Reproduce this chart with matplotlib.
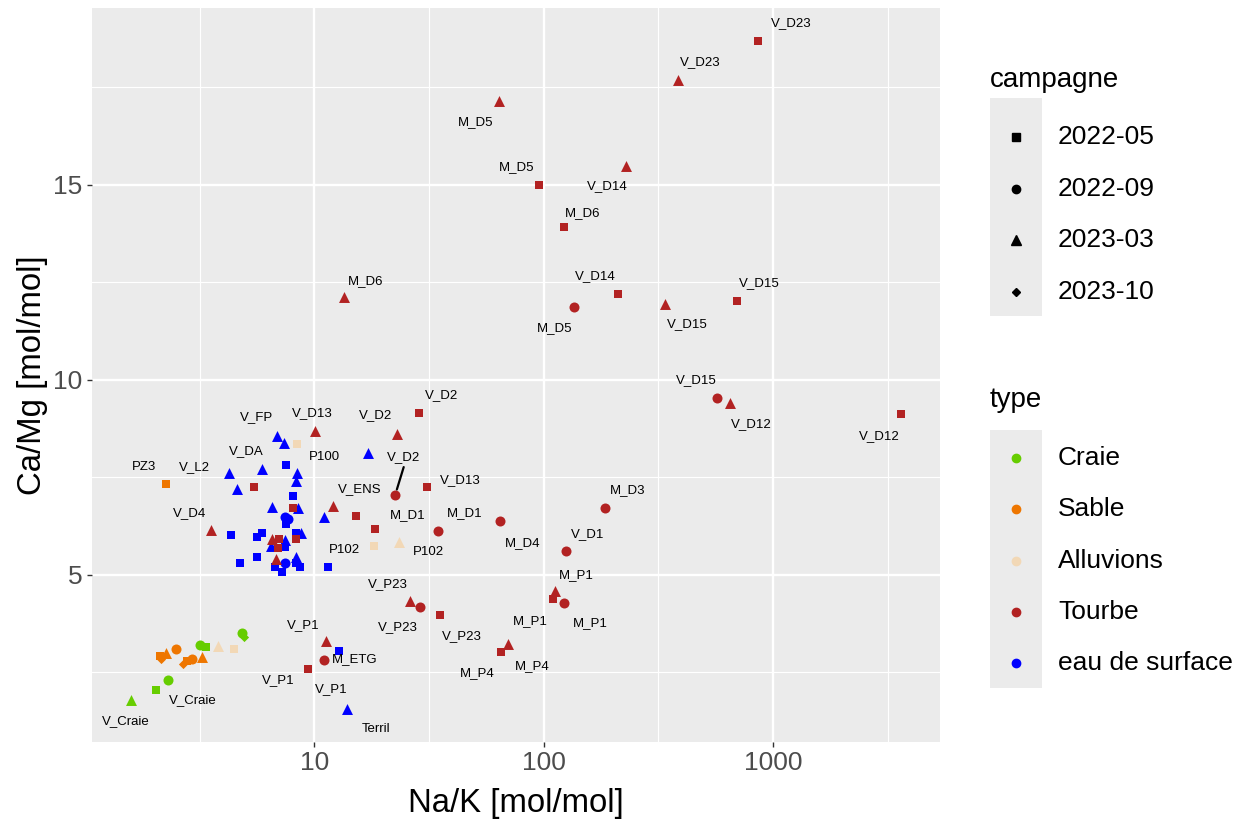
import numpy as np
import matplotlib.pyplot as plt
from matplotlib.lines import Line2D
from matplotlib.patches import Rectangle

plt.rcParams['font.family'] = ['Liberation Sans', 'DejaVu Sans']

types = ['Craie', 'Sable', 'Alluvions', 'Tourbe', 'eau de surface']
type_colors = ['#66CD00', '#EE7600', '#F2D8B6', '#B22222', '#0000FF']
campagnes = ['2022-05', '2022-09', '2023-03', '2023-10']
camp_markers = ['s', 'o', '^', 'D']
camp_sizes = [40, 52, 62, 22]

# eau de surface
eau_05_x = [12.82, 7.52, 8.10, 7.52, 4.31, 5.60, 5.89, 7.45, 8.29, 5.60, 4.71, 8.29, 8.66, 6.74, 7.20, 11.51]
eau_05_y = [3.04, 7.81, 7.02, 6.30, 6.02, 5.96, 6.08, 5.72, 6.07, 5.45, 5.30, 5.31, 5.21, 5.20, 5.06, 5.21]
eau_09_x = [7.45, 7.70, 7.45]
eau_09_y = [6.49, 6.42, 5.31]
eau_03_x = [13.8, 17.1, 6.87, 7.38, 4.25, 5.89, 8.43, 8.32, 4.61, 8.51, 6.51, 10.95, 6.44, 7.45, 8.75, 8.32]
eau_03_y = [1.57, 8.11, 8.55, 8.38, 7.60, 7.71, 7.60, 7.40, 7.20, 6.71, 6.75, 6.49, 5.74, 5.88, 6.07, 5.45]
# Tourbe
tou_05_x = [860, 95.1, 122.3, 211, 696, 3631, 28.6, 30.9, 15.1, 18.4, 35.4, 65.1, 109.4, 9.41, 5.45, 8.10, 7.03, 6.96, 8.29]
tou_05_y = [18.67, 15.0, 13.91, 12.19, 12.02, 9.11, 9.14, 7.26, 6.50, 6.17, 3.96, 3.03, 4.39, 2.59, 7.24, 6.71, 5.91, 5.68, 5.91]
tou_09_x = [135.2, 571, 22.5, 34.5, 64.7, 184.7, 125.6, 122.9, 28.9, 10.98]
tou_09_y = [11.85, 9.54, 7.05, 6.13, 6.37, 6.71, 5.62, 4.28, 4.18, 2.81]
tou_03_x = [386, 63.6, 228, 13.5, 336.5, 649, 23.0, 10.07, 12.1, 3.55, 26.0, 70.0, 112.5, 11.2, 6.51, 6.78]
tou_03_y = [17.69, 17.15, 15.47, 12.12, 11.95, 9.41, 8.62, 8.69, 6.76, 6.15, 4.32, 3.23, 4.59, 3.30, 5.91, 5.40]
# Alluvions
all_05_x = [8.35, 18.1, 4.46]
all_05_y = [8.34, 5.74, 3.10]
all_03_x = [23.3, 3.81]
all_03_y = [5.83, 3.17]
# Craie
cra_05_x = [2.03, 3.35]
cra_05_y = [2.06, 3.14]
cra_09_x = [2.30, 3.17, 4.85]
cra_09_y = [2.31, 3.21, 3.51]
cra_03_x = [1.577]
cra_03_y = [1.80]
cra_10_x = [4.95]
cra_10_y = [3.41]
# Sable
sab_05_x = [2.26, 2.12, 2.77]
sab_05_y = [7.32, 2.93, 2.78]
sab_09_x = [2.50, 2.93]
sab_09_y = [3.10, 2.84]
sab_03_x = [2.26, 3.24]
sab_03_y = [3.00, 2.90]
sab_10_x = [2.15, 2.68]
sab_10_y = [2.83, 2.72]

groups = [
    ('eau de surface', '2022-05', eau_05_x, eau_05_y),
    ('eau de surface', '2022-09', eau_09_x, eau_09_y),
    ('eau de surface', '2023-03', eau_03_x, eau_03_y),
    ('Tourbe', '2022-05', tou_05_x, tou_05_y),
    ('Tourbe', '2022-09', tou_09_x, tou_09_y),
    ('Tourbe', '2023-03', tou_03_x, tou_03_y),
    ('Alluvions', '2022-05', all_05_x, all_05_y),
    ('Alluvions', '2023-03', all_03_x, all_03_y),
    ('Craie', '2022-05', cra_05_x, cra_05_y),
    ('Craie', '2022-09', cra_09_x, cra_09_y),
    ('Craie', '2023-03', cra_03_x, cra_03_y),
    ('Craie', '2023-10', cra_10_x, cra_10_y),
    ('Sable', '2022-05', sab_05_x, sab_05_y),
    ('Sable', '2022-09', sab_09_x, sab_09_y),
    ('Sable', '2023-03', sab_03_x, sab_03_y),
    ('Sable', '2023-10', sab_10_x, sab_10_y),
]

# text labels (repelled positions)
label_text = ['V_D23', 'V_D23', 'M_D5', 'M_D5', 'V_D14', 'M_D6', 'V_D14', 'M_D6', 'M_D5',
              'V_D15', 'V_D15', 'V_D15', 'V_D12', 'V_D12', 'V_D2', 'V_D2', 'V_D2', 'V_D13',
              'V_FP', 'V_DA', 'P100', 'PZ3', 'V_L2', 'V_D4', 'V_ENS', 'V_D13', 'M_D1', 'M_D1',
              'M_D3', 'M_D4', 'V_D1', 'M_P1', 'M_P1', 'M_P1', 'P102', 'P102', 'V_P23', 'V_P23',
              'V_P23', 'M_P4', 'M_P4', 'V_P1', 'M_ETG', 'V_P1', 'V_P1', 'Terril', 'V_Craie', 'V_Craie']
label_x = [1198, 480, 50.5, 76.2, 188.4, 148, 168.6, 16.7, 111.7,
           421, 869, 461, 801, 2904, 35.9, 18.5, 24.5, 9.80,
           5.58, 5.05, 11.06, 1.81, 2.99, 2.85, 15.7, 43.4, 25.5, 45.2,
           232.8, 80.9, 155.6, 139.3, 160.3, 87.7, 13.5, 31.5, 20.8, 23.0,
           43.9, 51.5, 89.5, 8.95, 14.95, 6.96, 11.86, 18.5, 1.51, 2.96]
label_y = [19.14, 18.15, 16.61, 15.46, 14.97, 14.28, 12.65, 12.52, 11.32,
           11.42, 12.47, 9.99, 8.86, 8.55, 9.60, 9.09, 8.02, 9.14,
           9.04, 8.17, 8.02, 7.76, 7.76, 6.59, 7.20, 7.43, 6.53, 6.59,
           7.17, 5.82, 6.05, 5.00, 3.75, 3.82, 5.64, 5.59, 4.77, 3.67,
           3.44, 2.49, 2.67, 3.72, 2.85, 2.31, 2.08, 1.06, 1.24, 1.80]

W, H = 1242, 822
fig = plt.figure(figsize=(W / 100, H / 100), dpi=100)
ax = fig.add_axes([92 / W, 1 - 742 / H, (940 - 92) / W, (742 - 8) / H])
ax.set_facecolor('#EBEBEB')
for s in ax.spines.values():
    s.set_visible(False)

for t, c, xs, ys in groups:
    ci = types.index(t)
    mi = campagnes.index(c)
    ax.scatter(xs, ys, marker=camp_markers[mi], s=camp_sizes[mi], color=type_colors[ci],
               linewidths=0, zorder=3)

for txt, lx, ly in zip(label_text, label_x, label_y):
    ax.text(lx, ly, txt, fontsize=9.5, ha='center', va='center', zorder=4)

# segment for the repelled V_D2 label
ax.annotate('', xy=(22.5, 7.05), xytext=(24.5, 7.76),
            arrowprops=dict(arrowstyle='-', color='black', lw=1.6, shrinkA=0, shrinkB=4), zorder=4)

ax.set_xscale('log')
all_x = np.log10(np.concatenate([g[2] for g in groups]))
all_y = np.concatenate([g[3] for g in groups])
dx = (all_x.max() - all_x.min()) * 0.05
dy = (all_y.max() - all_y.min()) * 0.05
ax.set_xlim(10 ** (all_x.min() - dx), 10 ** (all_x.max() + dx))
ax.set_ylim(all_y.min() - dy, all_y.max() + dy)

ax.set_xticks([10, 100, 1000])
ax.set_xticklabels(['10', '100', '1000'])
ax.set_xticks([10 ** 0.5, 10 ** 1.5, 10 ** 2.5, 10 ** 3.5], minor=True)
ax.set_yticks([5, 10, 15])
ax.set_yticks([2.5, 7.5, 12.5, 17.5], minor=True)
ax.xaxis.set_minor_formatter(plt.NullFormatter())
ax.grid(which='major', color='white', lw=1.7)
ax.grid(which='minor', color='white', lw=0.85)
ax.set_axisbelow(True)
ax.tick_params(which='major', length=3.8, width=1.0, color='#333333', labelcolor='#4D4D4D',
               labelsize=19, pad=3)
ax.tick_params(which='minor', length=0)

fig.text(516 / W, 1 - 803 / H, 'Na/K [mol/mol]', fontsize=23.7, ha='center', va='center')
fig.text(33 / W, 1 - 375 / H, 'Ca/Mg [mol/mol]', fontsize=23.7, ha='center', va='center', rotation=90)

# legends
def px(x, y):
    return x / W, 1 - y / H

fig.text(*px(990, 80), 'campagne', fontsize=20, ha='left', va='center')
fig.add_artist(Rectangle(px(990, 316), 52 / W, (316 - 98) / H, transform=fig.transFigure,
                         facecolor='#EBEBEB', edgecolor='none'))
leg_ms = [5.5, 6, 7, 4.5]
for i, c in enumerate(campagnes):
    y = 137 + 51.7 * i
    fig.add_artist(Line2D([px(1016, y)[0]], [px(1016, y)[1]], transform=fig.transFigure,
                          marker=camp_markers[i], markersize=leg_ms[i], color='black', lw=0))
    fig.text(*px(1058, y), c, fontsize=19, ha='left', va='center')

fig.text(*px(990, 400), 'type', fontsize=20, ha='left', va='center')
fig.add_artist(Rectangle(px(990, 688), 52 / W, (688 - 430) / H, transform=fig.transFigure,
                         facecolor='#EBEBEB', edgecolor='none'))
for i, t in enumerate(types):
    y = 458 + 51.3 * i
    fig.add_artist(Line2D([px(1016, y)[0]], [px(1016, y)[1]], transform=fig.transFigure,
                          marker='o', markersize=6, color=type_colors[i], lw=0))
    fig.text(*px(1058, y), t, fontsize=19, ha='left', va='center')

fig.savefig('out.png', dpi=100)
